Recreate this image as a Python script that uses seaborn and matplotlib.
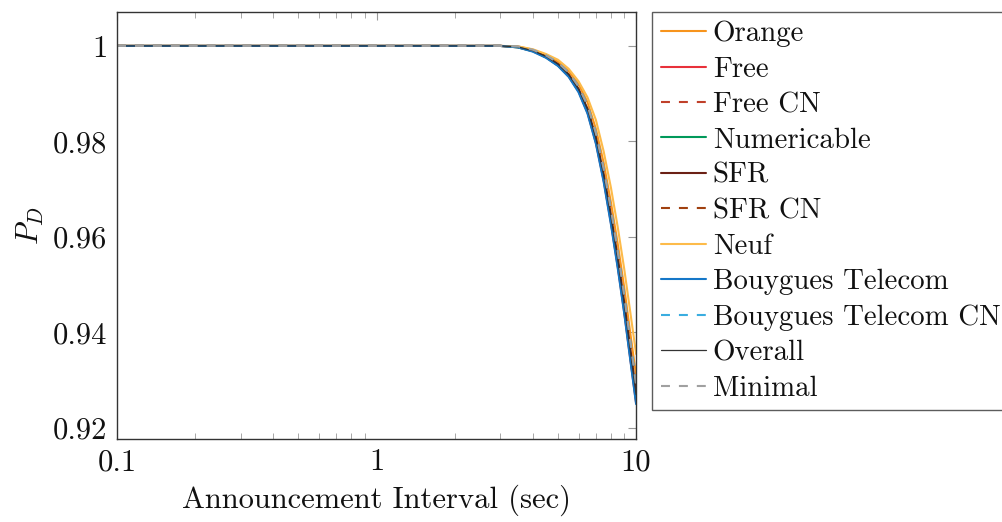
import matplotlib
matplotlib.use("Agg")
import matplotlib.pyplot as plt
import seaborn as sns
import numpy as np
from matplotlib.ticker import FixedLocator, FixedFormatter, LogLocator, NullFormatter

sns.set_theme(style="white")
plt.rcParams['font.family'] = ['cmr10', 'DejaVu Serif']
plt.rcParams['mathtext.fontset'] = 'cm'
plt.rcParams['axes.formatter.use_mathtext'] = True

interval = [0.1, 1, 2, 3, 3.5, 4, 4.5, 5, 5.5, 6, 6.5, 7, 7.5, 8, 8.5, 9, 9.5, 10]

orange = [1, 1, 1, 1.0000, 0.9999, 0.9992, 0.9981, 0.9967, 0.9947, 0.9920, 0.9882, 0.9826, 0.9755, 0.9672, 0.9585, 0.9494, 0.9398, 0.9310]
free = [1, 1, 1, 1.0000, 0.9997, 0.9989, 0.9976, 0.9959, 0.9936, 0.9905, 0.9860, 0.9797, 0.9718, 0.9629, 0.9537, 0.9442, 0.9344, 0.9252]
free_cn = [1, 1, 1, 1.0000, 0.9998, 0.9990, 0.9978, 0.9962, 0.9940, 0.9911, 0.9870, 0.9810, 0.9734, 0.9648, 0.9559, 0.9467, 0.9370, 0.9280]
numericable = [1, 1, 1, 1.0000, 0.9997, 0.9989, 0.9976, 0.9959, 0.9937, 0.9906, 0.9862, 0.9800, 0.9721, 0.9633, 0.9541, 0.9447, 0.9349, 0.9257]
sfr = [1, 1, 1, 1.0000, 0.9998, 0.9990, 0.9978, 0.9962, 0.9940, 0.9910, 0.9868, 0.9808, 0.9731, 0.9645, 0.9556, 0.9463, 0.9366, 0.9275]
sfr_cn = [1, 1, 1, 1.0000, 0.9998, 0.9991, 0.9979, 0.9964, 0.9943, 0.9914, 0.9874, 0.9815, 0.9740, 0.9655, 0.9567, 0.9475, 0.9379, 0.9290]
neuf = [1, 1, 1, 1.0000, 0.9999, 0.9993, 0.9983, 0.9971, 0.9952, 0.9926, 0.9892, 0.9845, 0.9779, 0.9703, 0.9620, 0.9533, 0.9442, 0.9355]
bouygues = [1, 1, 1, 1.0000, 0.9997, 0.9988, 0.9975, 0.9958, 0.9935, 0.9903, 0.9858, 0.9795, 0.9715, 0.9626, 0.9534, 0.9440, 0.9342, 0.9250]
bouygues_cn = [1, 1, 1, 1.0000, 0.9998, 0.9991, 0.9980, 0.9965, 0.9944, 0.9915, 0.9876, 0.9818, 0.9743, 0.9658, 0.9570, 0.9478, 0.9382, 0.9293]
overall = [1, 1, 1, 1.0000, 0.9998, 0.9990, 0.9978, 0.9962, 0.9940, 0.9910, 0.9868, 0.9807, 0.9730, 0.9643, 0.9553, 0.9460, 0.9362, 0.9270]
minimal = [1, 1, 1, 1.0000, 0.9999, 0.9992, 0.9980, 0.9965, 0.9944, 0.9915, 0.9875, 0.9817, 0.9742, 0.9657, 0.9568, 0.9476, 0.9380, 0.9290]

labels = ["Orange", "Free", "Free CN", "Numericable", "SFR", "SFR CN", "Neuf",
          "Bouygues Telecom", "Bouygues Telecom CN", "Overall", "Minimal"]
series = [orange, free, free_cn, numericable, sfr, sfr_cn, neuf, bouygues, bouygues_cn, overall, minimal]

x_ticks = [0.1, 1, 10]
x_tick_labels = ["0.1", "1", "10"]
y_ticks = [0.92, 0.94, 0.96, 0.98, 1.0]
y_tick_labels = ["0.92", "0.94", "0.96", "0.98", "1"]

dash = (0, (4.3, 4.3))
styles = [
    ("#F7941D", "-", 1.5),
    ("#E8313A", "-", 1.5),
    ("#C0402A", dash, 1.5),
    ("#00995A", "-", 1.5),
    ("#6B2015", "-", 1.5),
    ("#A0400F", dash, 1.5),
    ("#FDBB4A", "-", 1.5),
    ("#1577C8", "-", 1.5),
    ("#3AADE0", dash, 1.5),
    ("#333333", "-", 0.9),
    ("#A0A0A0", dash, 1.5),
]

fig = plt.figure(figsize=(10.03, 5.22), dpi=100)
ax = fig.add_axes([0.1167, 0.159, 0.5175, 0.818])

for lab, vals, (col, ls, lw) in zip(labels, series, styles):
    sns.lineplot(x=interval, y=vals, ax=ax, color=col, linestyle=ls, linewidth=lw, label=lab)

ax.set_xscale("log")
ax.set_xlim(0.1, 10)
ax.set_ylim(0.9177, 1.0071)

ax.xaxis.set_major_locator(FixedLocator(x_ticks))
ax.xaxis.set_major_formatter(FixedFormatter(x_tick_labels))
ax.xaxis.set_minor_locator(LogLocator(base=10, subs=np.arange(2, 10)))
ax.xaxis.set_minor_formatter(NullFormatter())
ax.yaxis.set_major_locator(FixedLocator(y_ticks))
ax.yaxis.set_major_formatter(FixedFormatter(y_tick_labels))

ax.tick_params(axis="both", which="major", direction="in", length=6, width=0.8,
               color="#999999", labelsize=22, top=True, right=True, pad=7,
               labelcolor="#111111")
ax.tick_params(axis="x", which="minor", direction="in", length=4, width=0.6,
               color="#999999", top=True, bottom=True)

for s in ax.spines.values():
    s.set_color("#333333")
    s.set_linewidth(1.0)

ax.set_xlabel("Announcement Interval (sec)", fontsize=22, labelpad=6, color="#111111")
ax.set_ylabel(r"$P_D$", fontsize=22, labelpad=5, color="#111111")

leg = ax.legend(loc="upper left", bbox_to_anchor=(1.031, 1.0), fontsize=20.8,
                frameon=True, fancybox=False, edgecolor="#333333",
                handlelength=1.56, handletextpad=0.24, labelspacing=0.315,
                borderpad=0.3, borderaxespad=0)
leg.get_frame().set_linewidth(1.0)
for t in leg.get_texts():
    t.set_color("#111111")

fig.savefig("out.png", dpi=100)
